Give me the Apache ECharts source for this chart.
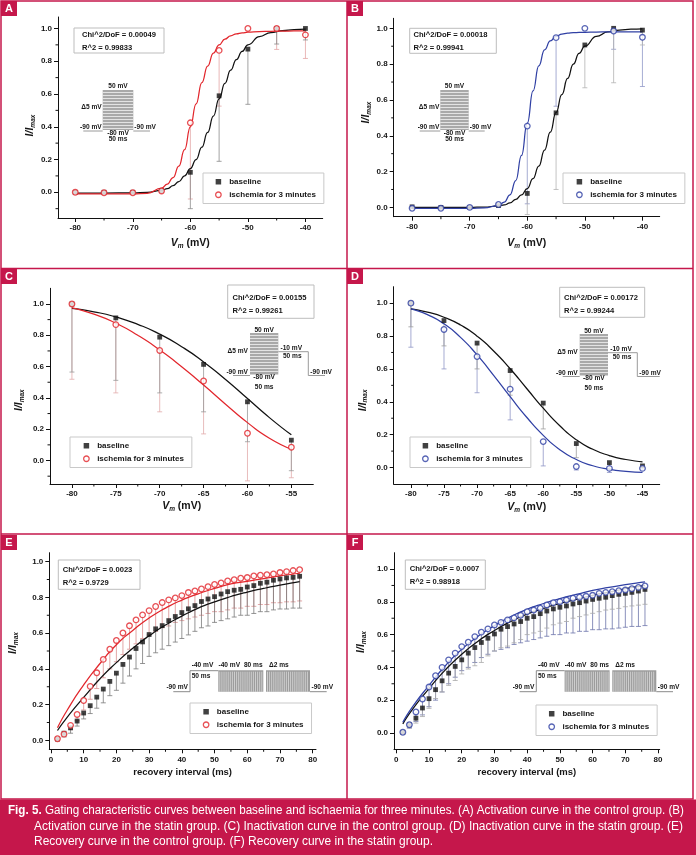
<!DOCTYPE html>
<html><head><meta charset="utf-8">
<script src="https://cdn.jsdelivr.net/npm/echarts@6/dist/echarts.min.js"></script>
<style>html,body{margin:0;padding:0;background:#fff}#c{width:696px;height:855px}</style>
</head><body><div id="c"></div>
<script>
// ---------------- DATA ----------------
// Panel A: activation, control group
const aVolt = [-80,-75,-70,-65,-60,-55,-50,-45,-40];
const aBase = [0.0,0.0,0.0,0.01,0.122,0.589,0.874,1.0,1.0];
const aIsch = [0.0,-0.003,-0.003,0.008,0.424,0.866,1.0,1.0,0.961];
const aBaseLow = [0.0,0.0,0.0,0.01,-0.10,0.189,0.537,0.905,0.93];
const aIschLow = [0.0,-0.003,-0.003,0.008,-0.041,0.526,1.0,0.872,0.817];
const aFitV = [-80,-75,-70,-67.5,-65,-64,-63,-62,-61,-60,-59,-58,-57,-56,-55,-54,-53,-52,-51,-50,-48,-46,-44,-42,-40];
const aFitBase = [-0.005,-0.005,-0.003,0.0,0.012,0.022,0.04,0.065,0.1,0.145,0.2,0.275,0.365,0.465,0.57,0.665,0.745,0.81,0.86,0.9,0.95,0.975,0.987,0.993,0.996];
const aFitIsch = [-0.01,-0.01,-0.01,-0.006,0.025,0.05,0.09,0.16,0.26,0.4,0.54,0.67,0.77,0.85,0.9,0.935,0.955,0.967,0.973,0.977,0.981,0.983,0.984,0.985,0.985];
const aXTicks = [-80,-70,-60,-50,-40];
const aXMinor = [-75,-65,-55,-45];
const aYTicks = [0,0.2,0.4,0.6,0.8,1.0];
const aYMinor = [-0.1,0.1,0.3,0.5,0.7,0.9];

// Panel B: activation, statin group
const bVolt = [-80,-75,-70,-65,-60,-55,-50,-45,-40];
const bBase = [0.003,0.0,0.0,0.01,0.078,0.528,0.907,1.0,0.99];
const bIsch = [-0.005,-0.005,0.0,0.016,0.454,0.948,1.0,0.985,0.95];
const bBaseLow = [0.003,0.0,0.0,0.01,-0.04,0.10,0.668,0.696,0.907];
const bIschLow = [-0.005,-0.005,0.0,0.016,0.02,0.565,1.0,0.883,0.675];
const bFitV = [-80,-75,-70,-67.5,-65,-64,-63,-62,-61,-60,-59,-58,-57,-56,-55,-54,-53,-52,-51,-50,-48,-46,-44,-42,-40];
const bFitBase = [0.0,0.0,0.0,0.002,0.008,0.014,0.025,0.045,0.07,0.105,0.16,0.23,0.32,0.42,0.53,0.63,0.72,0.8,0.86,0.9,0.955,0.98,0.99,0.995,0.997];
const bFitIsch = [-0.005,-0.005,-0.005,-0.003,0.01,0.03,0.07,0.15,0.29,0.47,0.65,0.79,0.88,0.93,0.955,0.968,0.973,0.976,0.977,0.978,0.979,0.98,0.98,0.98,0.98];
const bXTicks = [-80,-70,-60,-50,-40];
const bXMinor = [-75,-65,-55,-45];
const bYTicks = [0,0.2,0.4,0.6,0.8,1.0];
const bYMinor = [0.1,0.3,0.5,0.7,0.9];

// Panel C: inactivation, control group
const cVolt = [-80,-75,-70,-65,-60,-55];
const cBase = [1.0,0.911,0.788,0.614,0.375,0.13];
const cIsch = [1.0,0.868,0.703,0.508,0.174,0.085];
const cBaseLow = [0.565,0.512,0.432,0.311,0.12,-0.065];
const cIschLow = [0.519,0.432,0.311,0.17,-0.13,-0.11];
const cFitV = [-80,-77.5,-75,-72.5,-70,-67.5,-65,-62.5,-60,-57.5,-55];
const cFitBase = [0.972,0.95,0.917,0.87,0.807,0.727,0.63,0.518,0.396,0.274,0.164];
const cFitIsch = [0.975,0.935,0.877,0.8,0.706,0.599,0.482,0.36,0.242,0.142,0.072];
const cXTicks = [-80,-75,-70,-65,-60,-55];
const cXMinor = [-77.5,-72.5,-67.5,-62.5,-57.5];
const cYTicks = [0,0.2,0.4,0.6,0.8,1.0];
const cYMinor = [-0.1,0.1,0.3,0.5,0.7,0.9];

// Panel D: inactivation, statin group
const dVolt = [-80,-75,-70,-65,-60,-55,-50,-45];
const dBase = [1.0,0.894,0.757,0.59,0.392,0.146,0.03,0.01];
const dIsch = [1.0,0.84,0.675,0.477,0.158,0.006,-0.005,-0.005];
const dBaseLow = [0.856,0.74,0.6,0.44,0.235,0.06,-0.005,0.0];
const dIschLow = [0.732,0.6,0.455,0.29,0.01,-0.015,-0.03,-0.01];
const dFitV = [-80,-77.5,-75,-72.5,-70,-67.5,-65,-62.5,-60,-57.5,-55,-52.5,-50,-47.5,-45];
const dFitBase = [0.965,0.945,0.914,0.867,0.799,0.709,0.601,0.481,0.361,0.254,0.169,0.111,0.073,0.049,0.035];
const dFitIsch = [0.965,0.93,0.874,0.792,0.685,0.561,0.431,0.306,0.196,0.109,0.049,0.011,-0.011,-0.023,-0.029];
const dXTicks = [-80,-75,-70,-65,-60,-55,-50,-45];
const dXMinor = [-77.5,-72.5,-67.5,-62.5,-57.5,-52.5,-47.5];
const dYTicks = [0,0.2,0.4,0.6,0.8,1.0];
const dYMinor = [0.1,0.3,0.5,0.7,0.9];

// Panel E: recovery, control group
const eInterval = [2,4,6,8,10,12,14,16,18,20,22,24,26,28,30,32,34,36,38,40,42,44,46,48,50,52,54,56,58,60,62,64,66,68,70,72,74,76];
const eBase = [0.007,0.04,0.07,0.108,0.153,0.194,0.242,0.287,0.33,0.376,0.425,0.466,0.514,0.551,0.592,0.624,0.642,0.67,0.693,0.715,0.736,0.754,0.777,0.791,0.804,0.819,0.832,0.84,0.845,0.858,0.866,0.879,0.885,0.896,0.903,0.909,0.912,0.918];
const eIsch = [0.009,0.035,0.084,0.145,0.223,0.302,0.378,0.453,0.51,0.559,0.601,0.641,0.674,0.702,0.726,0.749,0.771,0.786,0.797,0.81,0.827,0.836,0.847,0.86,0.872,0.881,0.892,0.899,0.907,0.911,0.92,0.924,0.927,0.931,0.939,0.944,0.95,0.955];
const eBaseLow = [0.0,0.02,0.04,0.08,0.12,0.15,0.18,0.21,0.25,0.28,0.32,0.36,0.40,0.43,0.47,0.49,0.51,0.53,0.55,0.57,0.59,0.61,0.63,0.64,0.66,0.67,0.68,0.69,0.70,0.70,0.71,0.72,0.72,0.73,0.735,0.735,0.74,0.74];
const eIschLow = [0.0,0.02,0.06,0.11,0.17,0.23,0.29,0.35,0.40,0.44,0.48,0.51,0.54,0.57,0.59,0.61,0.63,0.64,0.66,0.67,0.68,0.69,0.70,0.71,0.72,0.72,0.73,0.74,0.74,0.75,0.75,0.76,0.76,0.77,0.77,0.775,0.775,0.78];
const eFitT = [2,5,10,15,20,25,30,35,40,45,50,55,60,65,70,76];
const eFitBase = [0.055,0.13,0.24,0.345,0.435,0.515,0.585,0.645,0.695,0.74,0.775,0.805,0.83,0.85,0.868,0.888];
const eFitIsch = [0.07,0.17,0.31,0.43,0.535,0.615,0.685,0.74,0.785,0.82,0.85,0.875,0.89,0.905,0.92,0.935];
const eXTicks = [0,10,20,30,40,50,60,70,80];
const eXMinor = [5,15,25,35,45,55,65,75];
const eYTicks = [0,0.2,0.4,0.6,0.8,1.0];
const eYMinor = [0.1,0.3,0.5,0.7,0.9];

// Panel F: recovery, statin group
const fInterval = [2,4,6,8,10,12,14,16,18,20,22,24,26,28,30,32,34,36,38,40,42,44,46,48,50,52,54,56,58,60,62,64,66,68,70,72,74,76];
const fBase = [0.004,0.05,0.09,0.152,0.209,0.264,0.318,0.365,0.406,0.446,0.487,0.521,0.552,0.578,0.604,0.633,0.649,0.665,0.68,0.70,0.71,0.728,0.744,0.757,0.767,0.775,0.787,0.795,0.805,0.815,0.822,0.828,0.838,0.846,0.852,0.858,0.866,0.876];
const fIsch = [0.004,0.05,0.128,0.207,0.28,0.349,0.40,0.446,0.487,0.527,0.554,0.588,0.615,0.635,0.659,0.675,0.69,0.702,0.718,0.74,0.75,0.761,0.781,0.795,0.801,0.811,0.822,0.828,0.834,0.84,0.852,0.858,0.862,0.868,0.872,0.88,0.888,0.897];
const fBaseLow = [0.0,0.03,0.06,0.10,0.15,0.21,0.25,0.29,0.32,0.36,0.39,0.41,0.43,0.47,0.50,0.52,0.53,0.55,0.57,0.60,0.61,0.62,0.64,0.66,0.67,0.68,0.70,0.71,0.72,0.73,0.74,0.75,0.755,0.76,0.77,0.775,0.78,0.785];
const fIschLow = [0.0,0.03,0.07,0.11,0.16,0.20,0.25,0.30,0.34,0.38,0.40,0.43,0.46,0.48,0.50,0.51,0.52,0.54,0.55,0.56,0.57,0.58,0.59,0.60,0.60,0.61,0.61,0.62,0.62,0.63,0.63,0.635,0.635,0.64,0.645,0.65,0.65,0.655];
const fFitT = [2,5,10,15,20,25,30,35,40,45,50,55,60,65,70,76];
const fFitBase = [0.055,0.145,0.27,0.385,0.48,0.56,0.625,0.68,0.725,0.76,0.79,0.815,0.84,0.86,0.88,0.9];
const fFitIsch = [0.065,0.16,0.29,0.41,0.51,0.59,0.655,0.71,0.755,0.79,0.82,0.845,0.87,0.888,0.905,0.922];
const fXTicks = [0,10,20,30,40,50,60,70,80];
const fXMinor = [5,15,25,35,45,55,65,75];
const fYTicks = [0,0.2,0.4,0.6,0.8,1.0];
const fYMinor = [0.1,0.3,0.5,0.7,0.9];

const statText = {
  A: ['Chi^2/DoF = 0.00049', 'R^2 = 0.99833'],
  B: ['Chi^2/DoF = 0.00018', 'R^2 = 0.99941'],
  C: ['Chi^2/DoF = 0.00155', 'R^2 = 0.99261'],
  D: ['Chi^2/DoF = 0.00172', 'R^2 = 0.99244'],
  E: ['Chi^2/DoF = 0.0023', 'R^2 = 0.9729'],
  F: ['Chi^2/DoF = 0.0007', 'R^2 = 0.98918']
};
const legendNames = ['baseline', 'ischemia for 3 minutes'];
const captionBold = 'Fig. 5.';
const captionLines = [
  ' Gating characteristic curves between baseline and ischaemia for three minutes. (A) Activation curve in the control group. (B)',
  'Activation curve in the statin group. (C) Inactivation curve in the control group. (D) Inactivation curve in the statin group. (E)',
  'Recovery curve in the control group. (F) Recovery curve in the statin group.'
];

// ---------------- STYLE / LAYOUT ----------------
const RED = '#e2262c', BLUE = '#3040a4', BLACK = '#111111', CRIMSON = '#c5174b';
const FONT = '"Liberation Sans", Arial, Helvetica, sans-serif';
const TXT = '#151515';

const vmName = '{i|V}{s|m}{n| (mV)}';
const iName = '{i|I/I}{s|max}';
const nameRich = {
  i: {fontSize: 10.5, fontStyle: 'italic', fontWeight: 'bold', fontFamily: FONT, color: TXT, lineHeight: 12, verticalAlign: 'top'},
  s: {fontSize: 6.5, fontStyle: 'italic', fontWeight: 'bold', fontFamily: FONT, color: TXT, lineHeight: 7, padding: [7, 0, 0, 0], verticalAlign: 'bottom'},
  n: {fontSize: 10.5, fontWeight: 'bold', fontFamily: FONT, color: TXT, lineHeight: 12, verticalAlign: 'top'}
};

// lg: [left, top, padLeft]; yPad: shift of the y title along the axis
const panels = [
  {id:'A', g:[58,17,264.7,201], x:[-83,-37], y:[-0.157,1.07], xt:aXTicks, xm:aXMinor, yt:aYTicks, ym:aYMinor,
   xs:aVolt, base:aBase, isch:aIsch, bl:aBaseLow, il:aIschLow, fx:aFitV, fb:aFitBase, fi:aFitIsch, mono:true,
   col:RED, eb:'#8c8c8c', ei:'#e3a4a4', xName:vmName, xGap:20, yGap:10, yPad:[0,16,0,0], lg:[203,173,12]},
  {id:'B', g:[393.7,18.3,266,198.4], x:[-83.2,-37], y:[-0.052,1.056], xt:bXTicks, xm:bXMinor, yt:bYTicks, ym:bYMinor,
   xs:bVolt, base:bBase, isch:bIsch, bl:bBaseLow, il:bIschLow, fx:bFitV, fb:bFitBase, fi:bFitIsch, mono:true,
   col:BLUE, eb:'#b3b3b3', ei:'#8f97c6', xName:vmName, xGap:21, yGap:15, yPad:[0,0,0,10], lg:[563,173,13]},
  {id:'C', g:[50,288.3,263.3,195.7], x:[-82.5,-52.5], y:[-0.15,1.1], xt:cXTicks, xm:cXMinor, yt:cYTicks, ym:cYMinor,
   xs:cVolt, base:cBase, isch:cIsch, bl:cBaseLow, il:cIschLow, fx:cFitV, fb:cFitBase, fi:cFitIsch, mono:false,
   col:RED, eb:'#9a9a9a', ei:'#e2abab', xName:vmName, xGap:16, yGap:24, yPad:[0,28,0,0], lg:[70,437,13]},
  {id:'D', g:[393.7,286.7,266,197.3], x:[-82.6,-42.4], y:[-0.1,1.1], xt:dXTicks, xm:dXMinor, yt:dYTicks, ym:dYMinor,
   xs:dVolt, base:dBase, isch:dIsch, bl:dBaseLow, il:dIschLow, fx:dFitV, fb:dFitBase, fi:dFitIsch, mono:false,
   col:BLUE, eb:'#9d9d9d', ei:'#8f96c6', xName:vmName, xGap:18, yGap:24.5, yPad:[0,30,0,0], lg:[410,437,12]},
  {id:'E', g:[49.3,552.7,266.7,196.6], x:[-0.5,81], y:[-0.05,1.05], xt:eXTicks, xm:eXMinor, yt:eYTicks, ym:eYMinor,
   xs:eInterval, base:eBase, isch:eIsch, bl:eBaseLow, il:eIschLow, fx:eFitT, fb:eFitBase, fi:eFitIsch, mono:false,
   col:RED, eb:'#7a7a7a', ei:'#d99090', xName:'recovery interval (ms)', xGap:18, yGap:29.5, yPad:[0,0,0,16], lg:[190,703,12.7]},
  {id:'F', g:[394,552.7,265.7,196.6], x:[-0.7,80.5], y:[-0.1,1.1], xt:fXTicks, xm:fXMinor, yt:fYTicks, ym:fYMinor,
   xs:fInterval, base:fBase, isch:fIsch, bl:fBaseLow, il:fIschLow, fx:fFitT, fb:fFitBase, fi:fFitIsch, mono:false,
   col:BLUE, eb:'#a9a9a9', ei:'#6c74aa', xName:'recovery interval (ms)', xGap:18, yGap:26, yPad:[0,0,0,18], lg:[536,705,12.3]}
];

const zip = (a, b) => a.map((v, k) => [v, b[k]]);
const zip3 = (a, b, c) => a.map((v, k) => [v, b[k], c[k]]);

function errSeries(i, xs, vals, lows, color) {
  return {
    type: 'custom', xAxisIndex: i, yAxisIndex: i, silent: true, z: 1, clip: false,
    data: zip3(xs, vals, lows),
    encode: {x: 0, y: 1},
    renderItem: function (params, api) {
      const x = api.value(0), y = api.value(1), lo = api.value(2);
      if (y - lo < 0.004) return;
      const p1 = api.coord([x, y]), p2 = api.coord([x, lo]);
      return {type: 'group', children: [
        {type: 'line', shape: {x1: p1[0], y1: p1[1], x2: p2[0], y2: p2[1]}, style: {stroke: color, lineWidth: 0.8}},
        {type: 'line', shape: {x1: p2[0] - 2.5, y1: p2[1], x2: p2[0] + 2.5, y2: p2[1]}, style: {stroke: color, lineWidth: 0.8}}
      ]};
    }
  };
}
function fitSeries(i, name, fx, fy, color, mono) {
  const s = {type: 'line', name: name, xAxisIndex: i, yAxisIndex: i, data: zip(fx, fy), symbol: 'none', showSymbol: false,
    smooth: mono ? 0.5 : 0.6, lineStyle: {color: color, width: 1.25}, z: 3, silent: true};
  if (mono) s.smoothMonotone = 'x';
  return s;
}
function minorSeries(i, p) {
  const data = p.xm.map(v => [v, p.y[0], 0]).concat(p.ym.map(v => [p.x[0], v, 1]));
  return {type: 'custom', xAxisIndex: i, yAxisIndex: i, silent: true, z: 6, clip: false, data: data,
    encode: {x: 0, y: 1},
    renderItem: function (params, api) {
      const c = api.coord([api.value(0), api.value(1)]);
      const k = api.value(2);
      const shape = k === 0 ? {x1: c[0], y1: c[1], x2: c[0], y2: c[1] + 2.5} : {x1: c[0] - 2.5, y1: c[1], x2: c[0], y2: c[1]};
      return {type: 'line', shape: shape, style: {stroke: BLACK, lineWidth: 1}};
    }};
}

const grid = [], xAxis = [], yAxis = [], series = [], legend = [];
const tickLabel = {margin: 6, fontSize: 8, fontWeight: 'bold', fontFamily: FONT, color: TXT};
panels.forEach((p, i) => {
  grid.push({left: p.g[0], top: p.g[1], width: p.g[2], height: p.g[3], show: false});
  const isVm = p.xName === vmName;
  xAxis.push({gridIndex: i, type: 'value', min: p.x[0], max: p.x[1],
    axisLine: {show: true, onZero: false, lineStyle: {color: BLACK, width: 1}},
    axisTick: {show: true, length: 4, customValues: p.xt, lineStyle: {color: BLACK, width: 1}},
    axisLabel: Object.assign({customValues: p.xt, formatter: v => String(v)}, tickLabel),
    splitLine: {show: false},
    name: p.xName, nameLocation: 'middle', nameGap: p.xGap,
    nameTextStyle: isVm ? {rich: nameRich} : {fontSize: 9.5, fontWeight: 'bold', fontFamily: FONT, color: TXT}
  });
  yAxis.push({gridIndex: i, type: 'value', min: p.y[0], max: p.y[1],
    axisLine: {show: true, onZero: false, lineStyle: {color: BLACK, width: 1}},
    axisTick: {show: true, length: 4, customValues: p.yt, lineStyle: {color: BLACK, width: 1}},
    axisLabel: Object.assign({customValues: p.yt, formatter: v => Number(v).toFixed(1)}, tickLabel),
    splitLine: {show: false},
    name: iName, nameLocation: 'middle', nameGap: p.yGap, nameTextStyle: {rich: nameRich, padding: p.yPad}
  });
  series.push(errSeries(i, p.xs, p.isch, p.il, p.ei));
  series.push(errSeries(i, p.xs, p.base, p.bl, p.eb));
  series.push(fitSeries(i, p.id + ' fit baseline', p.fx, p.fb, BLACK, p.mono));
  series.push(fitSeries(i, p.id + ' fit ischemia', p.fx, p.fi, p.col, p.mono));
  series.push({type: 'scatter', name: p.id + '|' + legendNames[0], xAxisIndex: i, yAxisIndex: i,
    data: zip(p.xs, p.base), symbol: 'rect', symbolSize: 4.8, itemStyle: {color: BLACK}, z: 4, silent: true});
  series.push({type: 'scatter', name: p.id + '|' + legendNames[1], xAxisIndex: i, yAxisIndex: i,
    data: zip(p.xs, p.isch), symbol: 'circle', symbolSize: 5.6,
    itemStyle: {color: '#ffffff', borderColor: p.col, borderWidth: 1.3}, z: 5, silent: true});
  series.push(minorSeries(i, p));
  legend.push({left: p.lg[0], top: p.lg[1], orient: 'vertical',
    data: [{name: p.id + '|' + legendNames[0]},
           {name: p.id + '|' + legendNames[1], itemStyle: {color: '#ffffff', borderColor: p.col, borderWidth: 1.3}}],
    formatter: n => n.split('|')[1],
    itemWidth: 5.5, itemHeight: 5.5, itemGap: 3.5, padding: [4, 8, 4, p.lg[2]],
    borderColor: '#c9c9c9', borderWidth: 1, backgroundColor: '#fff', selectedMode: false,
    textStyle: {fontSize: 8, fontWeight: 'bold', fontFamily: FONT, color: TXT, lineHeight: 9.5, padding: [0, 0, 0, 3]}});
});

// ---------------- GRAPHICS (frame, labels, insets, caption) ----------------
const G = [];
const smallFont = 'bold 6.6px ' + FONT;
function txt(x, y, s, align, font, fill) {
  G.push({type: 'text', x: x, y: y, silent: true, z: 20,
    style: {text: s, font: font || smallFont, fill: fill || TXT, align: align || 'center', verticalAlign: 'middle'}});
}
function ln(x1, y1, x2, y2, color, w) {
  G.push({type: 'line', silent: true, z: 19, shape: {x1, y1, x2, y2}, style: {stroke: color, lineWidth: w || 1}});
}
function box(x, y, w, h, fill, stroke, lw) {
  G.push({type: 'rect', silent: true, z: 18, shape: {x, y, width: w, height: h}, style: {fill: fill, stroke: stroke || null, lineWidth: lw || 0}});
}

// frame
G.push({type: 'rect', silent: true, z: 30, shape: {x: 1, y: 1, width: 692, height: 798}, style: {fill: 'none', stroke: CRIMSON, lineWidth: 1.5}});
ln(347, 1, 347, 799, CRIMSON, 1.5);
ln(1, 268.5, 693, 268.5, CRIMSON, 1.5);
ln(1, 534, 693, 534, CRIMSON, 1.5);
[['A',1,1],['B',347,1],['C',1,269],['D',347,269],['E',1,535],['F',347,535]].forEach(([l, x, y]) => {
  box(x, y, 16, 15, CRIMSON);
  txt(x + 8, y + 8, l, 'center', 'bold 11px ' + FONT, '#ffffff');
});

// stat boxes
const statBoxes = {A:[74,28,90,25,82,35,48], B:[409.7,28.3,86.6,25,413.5,35,47.7], C:[227.7,285,86.3,33.3,232.5,297.7,310.7],
  D:[559.7,287.3,85,30,564,297.7,310.7], E:[58.3,560,81.7,29.3,62.7,570,582.7], F:[405.3,560,80,29.3,409.7,569.3,582.3]};
Object.keys(statBoxes).forEach(k => {
  const b = statBoxes[k];
  box(b[0], b[1], b[2], b[3], '#ffffff', '#bdbdbd', 1);
  txt(b[4], b[5], statText[k][0], 'left', 'bold 7.6px ' + FONT);
  txt(b[4], b[6], statText[k][1], 'left', 'bold 7.6px ' + FONT);
});

// activation protocol inset (A, B)
function actInset(rx, ry, rw, rh, lb, rb) {
  box(rx, ry, rw, rh, '#a9a9a9');
  for (let yy = ry + 2.5; yy < ry + rh - 1; yy += 3) ln(rx, yy, rx + rw, yy, '#f2f2f2', 0.8);
  ln(rx - lb, ry + rh + 1, rx, ry + rh + 1, '#9a9a9a', 1);
  ln(rx + rw, ry + rh + 1, rx + rw + rb, ry + rh + 1, '#9a9a9a', 1);
  txt(rx + rw / 2, ry - 4, '50 mV');
  txt(rx - 1, ry + 17.5, 'Δ5 mV', 'right');
  txt(rx - 1, ry + 37.3, '-90 mV', 'right');
  txt(rx + rw + 1, ry + 37.3, '-90 mV', 'left');
  txt(rx + rw / 2, ry + 43, '-80 mV');
  txt(rx + rw / 2, ry + 49.5, '50 ms');
}
actInset(102.7, 90, 30.6, 40, 19.4, 16.7);
actInset(440.3, 90, 28.4, 40, 20.6, 16);

// inactivation protocol inset (C, D)
function inactInset(rx, ry, rw, rh, stepEnd, endX) {
  const base = ry + rh + 1, stepY = ry + 18.7;
  box(rx, ry, rw, rh, '#a9a9a9');
  for (let yy = ry + 2.5; yy < ry + rh - 1; yy += 3) ln(rx, yy, rx + rw, yy, '#f2f2f2', 0.8);
  ln(rx - 17, base, rx, base, '#9a9a9a', 1);
  ln(rx + rw, stepY, rx + stepEnd, stepY, '#9a9a9a', 1);
  ln(rx + stepEnd, stepY, rx + stepEnd, base, '#9a9a9a', 1);
  ln(rx + stepEnd, base, rx + endX, base, '#9a9a9a', 1);
  txt(rx + rw / 2, ry - 3, '50 mV');
  txt(rx - 2, ry + 18, 'Δ5 mV', 'right');
  txt(rx + rw + 13, ry + 14.7, '-10 mV');
  txt(rx + rw + 14, ry + 22.7, '50 ms');
  txt(rx - 2, ry + 38.7, '-90 mV', 'right');
  txt(rx + rw / 2, ry + 44.3, '-80 mV');
  txt(rx + rw / 2, ry + 53.7, '50 ms');
  txt(rx + stepEnd + 2, ry + 38.7, '-90 mV', 'left');
}
inactInset(250, 333, 28.3, 41.5, 58.3, 75);
inactInset(579.7, 334, 28.3, 41.5, 57.6, 80);

// recovery protocol inset (E, F)
function recInset(sx) {
  const base = 691.7, top = 670.7;
  ln(sx - 16.7, base, sx, base, '#8a8a8a', 1);
  ln(sx, base, sx, top, '#8a8a8a', 1);
  ln(sx, top, sx + 28.3, top, '#8a8a8a', 1);
  [[28.3, 73.3], [76, 120]].forEach(([a, b]) => {
    box(sx + a, top - 0.5, b - a, base - top + 0.5, '#9c9c9c');
    for (let xx = sx + a + 1.5; xx < sx + b - 0.5; xx += 2.1) ln(xx, top + 1, xx, base, '#f0f0f0', 0.6);
  });
  ln(sx + 120, base, sx + 136.7, base, '#8a8a8a', 1);
  txt(sx - 2, 686.7, '-90 mV', 'right');
  txt(sx + 12.5, 665.3, '-40 mV');
  txt(sx + 11, 675.7, '50 ms');
  txt(sx + 39.3, 665.3, '-40 mV');
  txt(sx + 63.3, 665.3, '80 ms');
  txt(sx + 88.8, 665.3, 'Δ2 ms');
  txt(sx + 121.5, 686.7, '-90 mV', 'left');
}
recInset(190);
recInset(536.3);

// caption
G.push({type: 'rect', silent: true, z: 30, shape: {x: 0, y: 799.5, width: 696, height: 55.5}, style: {fill: CRIMSON}});
const mctx = document.createElement('canvas').getContext('2d');
const CAP = 12.5;
function tw(s, weight) { mctx.font = weight + ' ' + CAP + 'px ' + FONT; return mctx.measureText(s).width; }
const w1 = tw(captionBold, 'bold') + tw(captionLines[0], 'normal');
const s1 = 676 / w1;
const s2 = 649 / tw(captionLines[1], 'normal');
const capStyle = {fontSize: CAP, fontFamily: FONT, fill: '#ffffff', align: 'left', verticalAlign: 'middle'};
G.push({type: 'text', x: 8, y: 811, scaleX: s1, z: 31, silent: true,
  style: Object.assign({text: '{b|' + captionBold + '}' + captionLines[0],
    rich: {b: {fontWeight: 'bold', fontSize: CAP, fontFamily: FONT, fill: '#ffffff'}}}, capStyle)});
G.push({type: 'text', x: 34, y: 826.5, scaleX: s2, z: 31, silent: true, style: Object.assign({text: captionLines[1]}, capStyle)});
G.push({type: 'text', x: 34, y: 842, scaleX: s2, z: 31, silent: true, style: Object.assign({text: captionLines[2]}, capStyle)});

const chart = echarts.init(document.getElementById('c'), null, {renderer: 'canvas', width: 696, height: 855});
chart.setOption({animation: false, backgroundColor: '#ffffff', grid, xAxis, yAxis, series, legend, graphic: G});
</script></body></html>
